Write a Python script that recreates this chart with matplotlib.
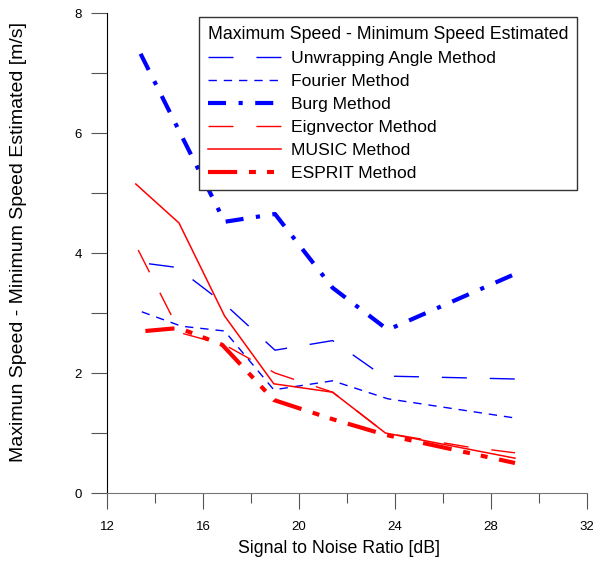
import matplotlib
matplotlib.use('Agg')
import matplotlib.pyplot as plt

plt.rcParams['font.family'] = ['Liberation Sans', 'DejaVu Sans']
plt.rcParams['lines.scale_dashes'] = False

# data
unwrap_x = [13.75, 14.9, 16.9, 19.0, 21.4, 23.5, 29.0]
unwrap_y = [3.82, 3.76, 3.15, 2.38, 2.54, 1.95, 1.9]

fourier_x = [13.45, 15.1, 16.9, 18.95, 21.4, 23.7, 29.0]
fourier_y = [3.02, 2.78, 2.7, 1.72, 1.87, 1.57, 1.25]

burg_x = [13.4, 16.9, 19.0, 21.4, 23.7, 29.0]
burg_y = [7.32, 4.52, 4.65, 3.42, 2.72, 3.65]

eign_x = [13.3, 15.05, 16.9, 19.0, 21.4, 23.6, 27.0, 29.0]
eign_y = [4.05, 2.67, 2.47, 2.0, 1.68, 1.0, 0.77, 0.67]

music_x = [13.2, 15.0, 16.9, 18.95, 21.4, 23.6, 29.0]
music_y = [5.15, 4.5, 2.95, 1.82, 1.68, 1.0, 0.58]

esprit_x = [13.6, 15.0, 16.8, 18.95, 21.4, 23.6, 29.0]
esprit_y = [2.7, 2.75, 2.47, 1.55, 1.23, 0.97, 0.5]

x_ticks = [12, 16, 20, 24, 28, 32]
y_ticks = [0, 2, 4, 6, 8]

fig = plt.figure(figsize=(5.93, 5.62), dpi=100)
ax = fig.add_axes([107 / 593, 1 - 493 / 562, 480 / 593, 480 / 562])

ax.plot(unwrap_x, unwrap_y, color='#0000ff', lw=1.0, ls=(0, (18, 16.5)),
        label='Unwrapping Angle Method')
ax.plot(fourier_x, fourier_y, color='#0000ff', lw=1.0, ls=(0, (6, 5)),
        label='Fourier Method')
ax.plot(burg_x, burg_y, color='#0000ff', lw=3.0, ls=(0, (13, 9, 3, 9)),
        label='Burg Method')
ax.plot(eign_x, eign_y, color='#ff0000', lw=1.0, ls=(0, (18, 16.5)),
        label='Eignvector Method')
ax.plot(music_x, music_y, color='#ff0000', lw=1.1, ls='-',
        label='MUSIC Method')
ax.plot(esprit_x, esprit_y, color='#ff0000', lw=3.0,
        ls=(0, (21, 8.5, 5, 8, 5, 8.5)), label='ESPRIT Method')

ax.set_xlim(12, 32)
ax.set_ylim(0, 8)
ax.set_xticks(x_ticks)
ax.set_xticks(range(14, 32, 4), minor=True)
ax.set_yticks(y_ticks)
ax.set_yticks([1, 3, 5, 7], minor=True)

ax.spines['top'].set_visible(False)
ax.spines['right'].set_visible(False)
ax.spines['left'].set_color('black')
ax.spines['bottom'].set_color('#777777')
ax.tick_params(axis='both', which='both', direction='out', color='#555555',
               width=0.8, labelsize=9.5)
ax.tick_params(axis='x', which='major', length=11.5, pad=8.5)
ax.tick_params(axis='x', which='minor', length=7.2)
ax.tick_params(axis='y', which='both', length=11.5, pad=6.5)

ax.set_xlabel('Signal to Noise Ratio [dB]', fontsize=12.8)
ax.set_ylabel('Maximun Speed - Minimum Speed Estimated [m/s]', fontsize=14)
ax.xaxis.set_label_coords(0.483, -0.098)
ax.yaxis.set_label_coords(-0.167, 0.523)

leg = ax.legend(title='Maximum Speed - Minimum Speed Estimated',
                loc='upper left', bbox_to_anchor=(0.1917, 0.9917),
                borderaxespad=0, fontsize=12.6, title_fontsize=12.8,
                alignment='left', handlelength=4.2, handletextpad=0.57,
                labelspacing=0.45, borderpad=0.5, fancybox=False,
                framealpha=1, edgecolor='#333333')
leg.get_frame().set_linewidth(1.0)

fig.savefig('out.png', dpi=100)
